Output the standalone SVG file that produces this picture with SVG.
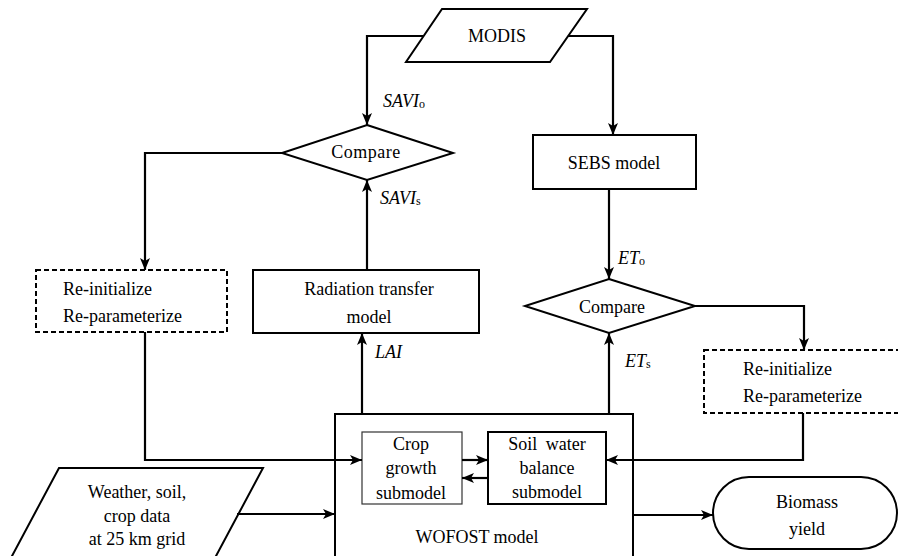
<svg xmlns="http://www.w3.org/2000/svg" width="898" height="556" viewBox="0 0 898 556" font-family="'Liberation Serif', 'Times New Roman', 'DejaVu Serif', serif">
<style>
text{font-family:"Liberation Serif","Times New Roman","DejaVu Serif",serif;font-size:18px;fill:#000}
.c{text-anchor:middle}
.i{font-style:italic}
.sub{font-style:normal;font-size:12px}
.shape{fill:#fff;stroke:#000;stroke-width:2}
.dash{fill:#fff;stroke:#000;stroke-width:2;stroke-dasharray:5 3}
.thin{fill:#fff;stroke:#333;stroke-width:1.2}
.ln{fill:none;stroke:#000;stroke-width:2.2;marker-end:url(#ah)}
</style>
<defs>
<marker id="ah" markerUnits="userSpaceOnUse" markerWidth="12" markerHeight="10" refX="12" refY="5" orient="auto">
<path d="M0,0 L12,5 L0,10 L3,5 z" fill="#000"/>
</marker>
</defs>
<g id="modis">
<polygon class="shape" points="442,9 587,9 550,62 406,62"/>
<text class="c" x="497" y="42">MODIS</text>
</g>
<g id="compare-left">
<polygon class="shape" points="367,125 453,153 367,180 282,153"/>
<text class="c" x="366" y="158" letter-spacing="0.5">Compare</text>
</g>
<g id="sebs">
<rect class="shape" x="533" y="135" width="163" height="54"/>
<text class="c" x="614" y="169">SEBS model</text>
</g>
<g id="reinit-left">
<rect class="dash" x="36" y="270" width="191" height="62"/>
<text x="63" y="295">Re-initialize</text>
<text x="63" y="322">Re-parameterize</text>
</g>
<g id="radiation">
<rect class="shape" x="253" y="270" width="226" height="63"/>
<text class="c" x="369" y="295">Radiation transfer</text>
<text class="c" x="369" y="323">model</text>
</g>
<g id="compare-right">
<polygon class="shape" points="609,279 695,306 609,333 525,306"/>
<text class="c" x="612" y="313">Compare</text>
</g>
<g id="reinit-right">
<rect class="dash" x="704" y="350" width="198" height="63"/>
<text x="743" y="375">Re-initialize</text>
<text x="743" y="402">Re-parameterize</text>
</g>
<g id="wofost">
<rect class="shape" x="335" y="414" width="298" height="160"/>
<text class="c" x="477" y="543">WOFOST model</text>
</g>
<g id="crop-growth">
<rect class="thin" x="362" y="432" width="100" height="72"/>
<text class="c" x="411" y="450">Crop</text>
<text class="c" x="411" y="474">growth</text>
<text class="c" x="411" y="499">submodel</text>
</g>
<g id="soil-water">
<rect class="shape" x="488" y="432" width="118" height="72"/>
<text class="c" x="547" y="450" word-spacing="4">Soil water</text>
<text class="c" x="547" y="474">balance</text>
<text class="c" x="547" y="498">submodel</text>
</g>
<g id="weather">
<polygon class="shape" points="59,468 263,468 208,571 4,571"/>
<text class="c" x="137" y="498">Weather, soil,</text>
<text class="c" x="137" y="522">crop data</text>
<text class="c" x="137" y="545">at 25 km grid</text>
</g>
<g id="biomass">
<rect class="shape" x="713" y="477" width="184" height="72" rx="36" ry="36"/>
<text class="c" x="807" y="508">Biomass</text>
<text class="c" x="807" y="535">yield</text>
</g>
<g id="connectors">
<polyline class="ln" points="423,36 367,36 367,125"/>
<polyline class="ln" points="568,36 613,36 613,135"/>
<polyline class="ln" points="282,153 145,153 145,270"/>
<polyline class="ln" points="367,270 367,180"/>
<polyline class="ln" points="362,414 362,333"/>
<polyline class="ln" points="609,189 609,279"/>
<polyline class="ln" points="609,414 609,333"/>
<polyline class="ln" points="695,306 804,306 804,350"/>
<polyline class="ln" points="145,332 145,460 362,460"/>
<polyline class="ln" points="803,413 803,460 606,460"/>
<polyline class="ln" points="462,460 488,460"/>
<polyline class="ln" points="488,478 462,478"/>
<polyline class="ln" points="237,514 335,514"/>
<polyline class="ln" points="633,515 713,515"/>
</g>
<g id="labels">
<text class="i" x="383" y="107">SAVI<tspan class="sub" dy="1">o</tspan></text>
<text class="i" x="380" y="204">SAVI<tspan class="sub" dy="1">s</tspan></text>
<text class="i" x="375" y="358">LAI</text>
<text class="i" x="618" y="264">ET<tspan class="sub" dy="1">o</tspan></text>
<text class="i" x="625" y="367">ET<tspan class="sub" dy="1">s</tspan></text>
</g>
</svg>
